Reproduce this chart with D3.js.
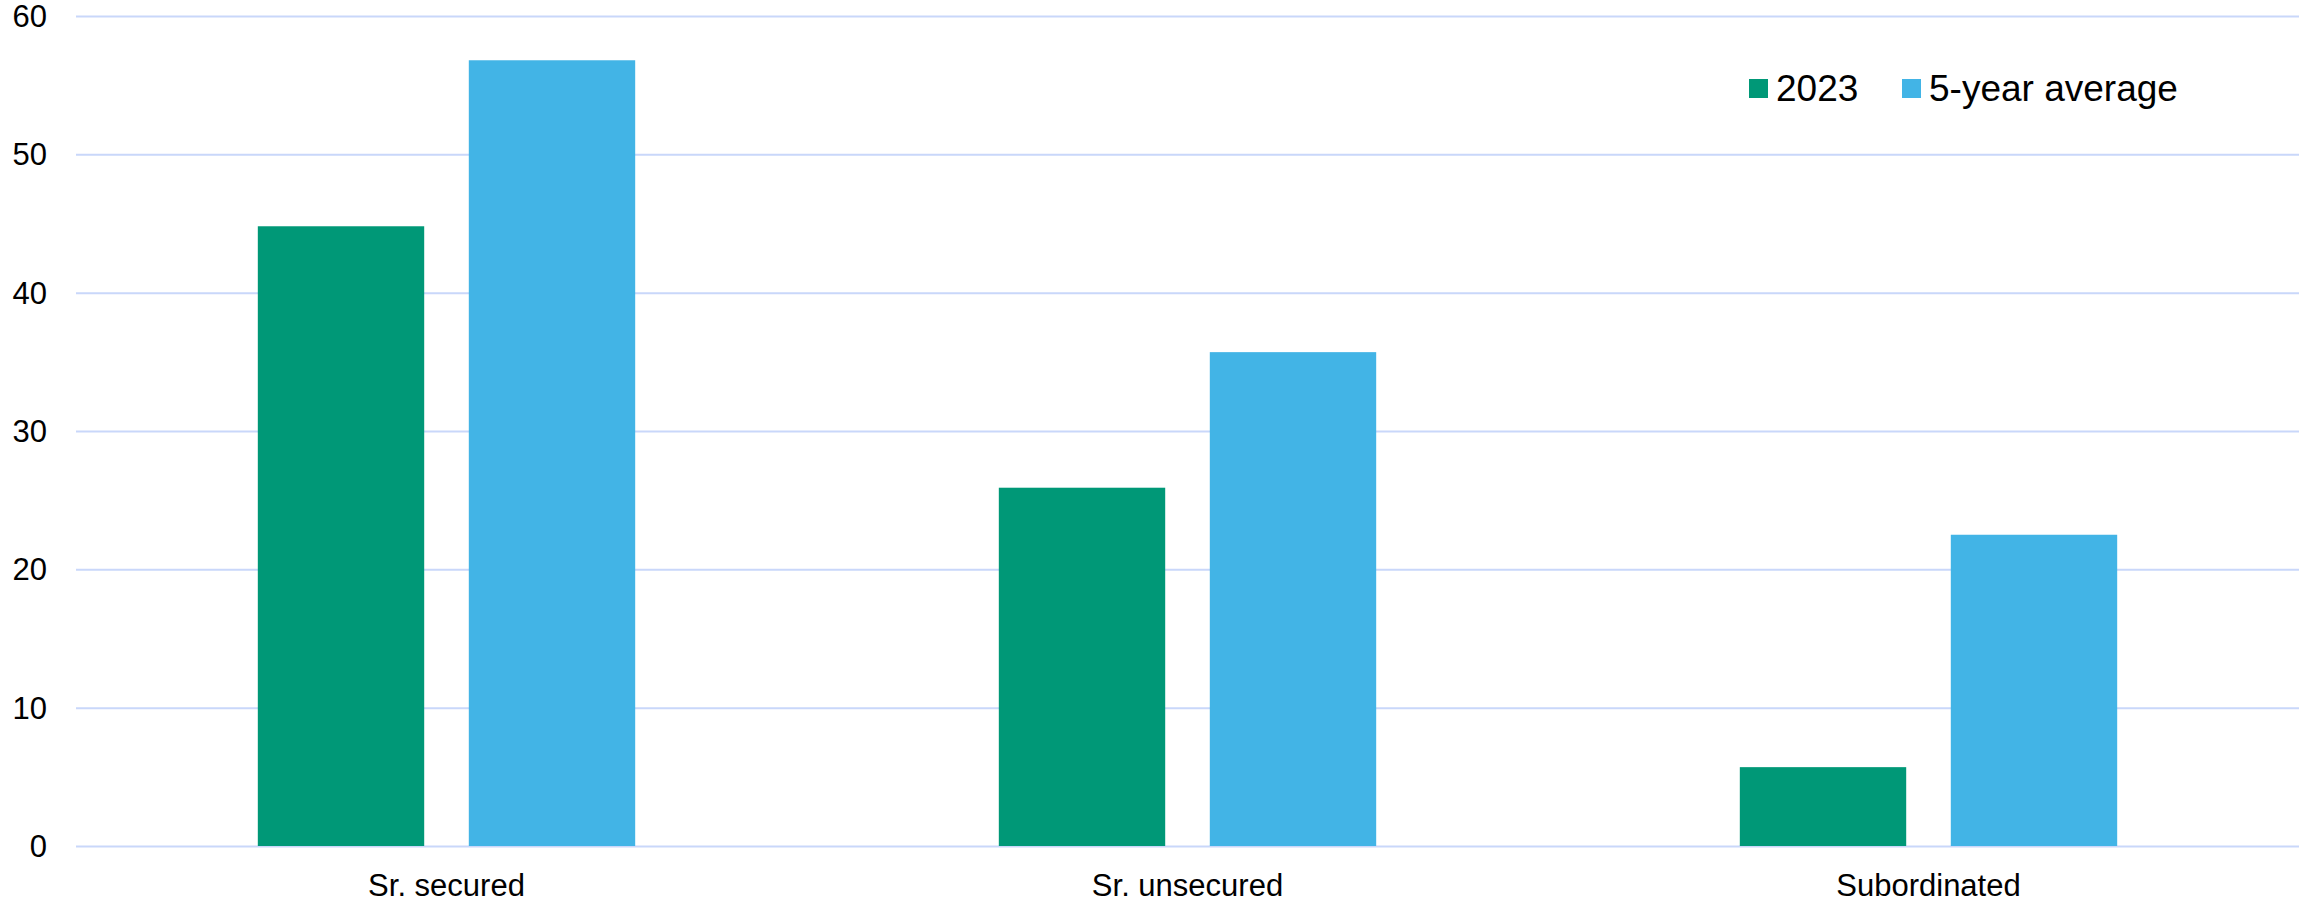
<!DOCTYPE html>
<html>
<head>
<meta charset="utf-8">
<script src="https://cdn.jsdelivr.net/npm/d3@7"></script>
<style>
  html, body { margin: 0; padding: 0; background: #ffffff; }
  svg { display: block; }
  text { font-family: "Liberation Sans", Arial, sans-serif; fill: #000000; }
</style>
</head>
<body>
<svg id="chart" width="2300" height="903"></svg>
<script>
// Recovery rates by seniority
const categories = ["Sr. secured", "Sr. unsecured", "Subordinated"];
const seriesNames = ["2023", "5-year average"];
const values2023 = [44.8, 25.9, 5.7];
const valuesAvg = [56.8, 35.7, 22.5];
const yTicks = [0, 10, 20, 30, 40, 50, 60];
const seriesColors = ["#009877", "#42b4e6"];

const width = 2300, height = 903;
const plot = { left: 76, right: 2299, top: 16, bottom: 846 };

const svg = d3.select("#chart");

const x0 = d3.scaleBand()
  .domain(categories)
  .range([plot.left, plot.right])
  .padding(0);

const x1 = d3.scaleBand()
  .domain(seriesNames)
  .range([0, x0.bandwidth()])
  .paddingInner(0.2114)
  .paddingOuter(0.8617);

const y = d3.scaleLinear()
  .domain([0, 60])
  .range([plot.bottom, plot.top]);

const color = d3.scaleOrdinal().domain(seriesNames).range(seriesColors);

// Y axis with horizontal gridlines
const yAxis = d3.axisLeft(y)
  .tickValues(yTicks)
  .tickSizeInner(-(plot.right - plot.left))
  .tickSizeOuter(0)
  .tickPadding(29)
  .tickFormat(d3.format("d"));

const gy = svg.append("g")
  .attr("transform", `translate(${plot.left},0)`)
  .call(yAxis);
gy.select(".domain").remove();
gy.selectAll(".tick line")
  .attr("stroke", "#c9d7fa")
  .attr("stroke-width", 2);
gy.selectAll(".tick text")
  .attr("font-size", 31)
  .attr("dy", "0.34em")
  .attr("fill", "#000");

// Bars
const rows = categories.map((c, i) => ({
  category: c,
  values: [
    { series: seriesNames[0], value: values2023[i] },
    { series: seriesNames[1], value: valuesAvg[i] }
  ]
}));

svg.append("g")
  .selectAll("g")
  .data(rows)
  .join("g")
  .attr("transform", d => `translate(${x0(d.category)},0)`)
  .selectAll("rect")
  .data(d => d.values)
  .join("rect")
  .attr("x", d => x1(d.series))
  .attr("width", x1.bandwidth())
  .attr("y", d => y(d.value))
  .attr("height", d => y(0) - y(d.value))
  .attr("fill", d => color(d.series));

// X axis labels
const xAxis = d3.axisBottom(x0).tickSize(0).tickPadding(28);
const gx = svg.append("g")
  .attr("transform", `translate(0,${plot.bottom})`)
  .call(xAxis);
gx.select(".domain").remove();
gx.selectAll(".tick text")
  .attr("font-size", 31)
  .attr("fill", "#000");

// Legend
const legendItems = [
  { name: seriesNames[0], x: 1749 },
  { name: seriesNames[1], x: 1902 }
];
const legend = svg.append("g");
const li = legend.selectAll("g")
  .data(legendItems)
  .join("g")
  .attr("transform", d => `translate(${d.x},79)`);
li.append("rect")
  .attr("width", 19)
  .attr("height", 19)
  .attr("fill", d => color(d.name));
li.append("text")
  .attr("x", 27)
  .attr("y", 22)
  .attr("font-size", 37)
  .text(d => d.name);
</script>
</body>
</html>
